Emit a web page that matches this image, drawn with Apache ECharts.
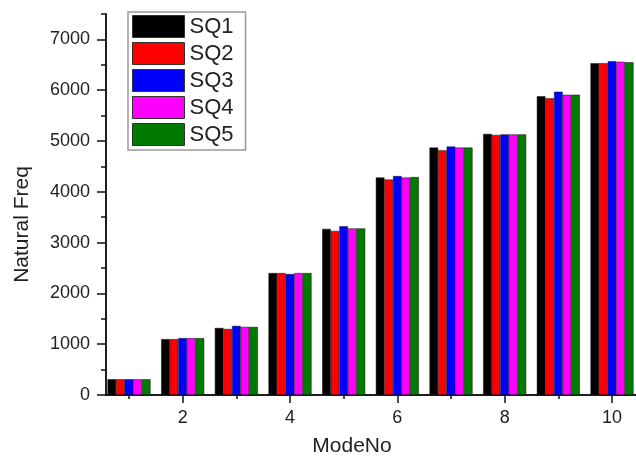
<!DOCTYPE html>
<html>
<head>
<meta charset="utf-8">
<script src="https://cdn.jsdelivr.net/npm/echarts@6/dist/echarts.min.js"></script>
<style>
html,body{margin:0;padding:0;background:#fff;}
#c{width:636px;height:462px;}
</style>
</head>
<body>
<div id="c"></div>
<script>
var modes = [1, 2, 3, 4, 5, 6, 7, 8, 9, 10];
var seriesNames = ['SQ1', 'SQ2', 'SQ3', 'SQ4', 'SQ5'];
var sq1 = [310, 1100, 1320, 2400, 3270, 4280, 4870, 5140, 5880, 6530];
var sq2 = [310, 1100, 1300, 2400, 3230, 4240, 4820, 5120, 5840, 6530];
var sq3 = [310, 1120, 1360, 2380, 3320, 4310, 4890, 5130, 5970, 6570];
var sq4 = [310, 1120, 1340, 2400, 3280, 4280, 4870, 5130, 5910, 6560];
var sq5 = [310, 1120, 1340, 2400, 3280, 4290, 4870, 5130, 5910, 6550];
var xMajorTicks = [2, 4, 6, 8, 10];
var xMinorTicks = [1, 3, 5, 7, 9];
var yMajorTicks = [0, 1000, 2000, 3000, 4000, 5000, 6000, 7000];
var yMinorTicks = [500, 1500, 2500, 3500, 4500, 5500, 6500, 7500];
var colors = ['#000000', '#ff0000', '#0000ff', '#ff00ff', '#007a00'];

var allSeries = [sq1, sq2, sq3, sq4, sq5];
var FONT = 'Liberation Sans, Arial, sans-serif';
var chart = echarts.init(document.getElementById('c'), null, {renderer: 'canvas'});

var xMin = 0.571, xMax = 10.447, yMin = 0, yMax = 7500;
function plain(v) { return String(v); }

function xAx(ticks, len, showLabel, name) {
  return {
    type: 'value', min: xMin, max: xMax, position: 'bottom',
    name: name || '', nameLocation: 'middle', nameGap: 41,
    nameTextStyle: {fontFamily: FONT, fontSize: 21, color: '#222', padding: [0, 38, 0, 0]},
    axisLine: {show: true, lineStyle: {color: '#111', width: 1.5}},
    axisTick: {show: true, length: len, customValues: ticks, lineStyle: {color: '#111', width: 1.5}},
    axisLabel: {show: showLabel, customValues: ticks, formatter: plain, margin: 14, fontFamily: FONT, fontSize: 18, color: '#222'},
    splitLine: {show: false}
  };
}
function yAx(ticks, len, showLabel, name) {
  return {
    type: 'value', min: yMin, max: yMax, position: 'left',
    name: name || '', nameLocation: 'middle', nameGap: 73,
    nameTextStyle: {fontFamily: FONT, fontSize: 21, color: '#222', padding: [0, 40, 0, 0]},
    axisLine: {show: true, lineStyle: {color: '#111', width: 1.5}},
    axisTick: {show: true, length: len, customValues: ticks, lineStyle: {color: '#111', width: 1.5}},
    axisLabel: {show: showLabel, customValues: ticks, formatter: plain, margin: 16, fontFamily: FONT, fontSize: 18, color: '#222'},
    splitLine: {show: false}
  };
}

var series = seriesNames.map(function (n, i) {
  return {
    name: n, type: 'bar', xAxisIndex: 0, yAxisIndex: 0,
    barWidth: 8.6, barGap: '0%',
    itemStyle: {color: colors[i], borderColor: '#111', borderWidth: 0.5},
    data: modes.map(function (m, j) { return [m, allSeries[i][j]]; })
  };
});

chart.setOption({
  animation: false,
  backgroundColor: '#fff',
  color: colors,
  grid: {left: 106, right: 0, top: 14, bottom: 61, containLabel: false},
  xAxis: [xAx(xMajorTicks, 8, true, 'ModeNo'), xAx(xMinorTicks, 4, false)],
  yAxis: [yAx(yMajorTicks, 9, true, 'Natural Freq'), yAx(yMinorTicks, 5, false)],
  legend: {
    orient: 'vertical', left: 128, top: 12,
    icon: 'rect', itemWidth: 52, itemHeight: 22, itemGap: 4,
    padding: [3, 12, 4, 4],
    borderColor: '#999', borderWidth: 1.5, backgroundColor: '#fff',
    textStyle: {fontFamily: FONT, fontSize: 22, color: '#222'},
    itemStyle: {borderColor: '#333', borderWidth: 1},
    data: seriesNames
  },
  series: series
});
</script>
</body>
</html>
